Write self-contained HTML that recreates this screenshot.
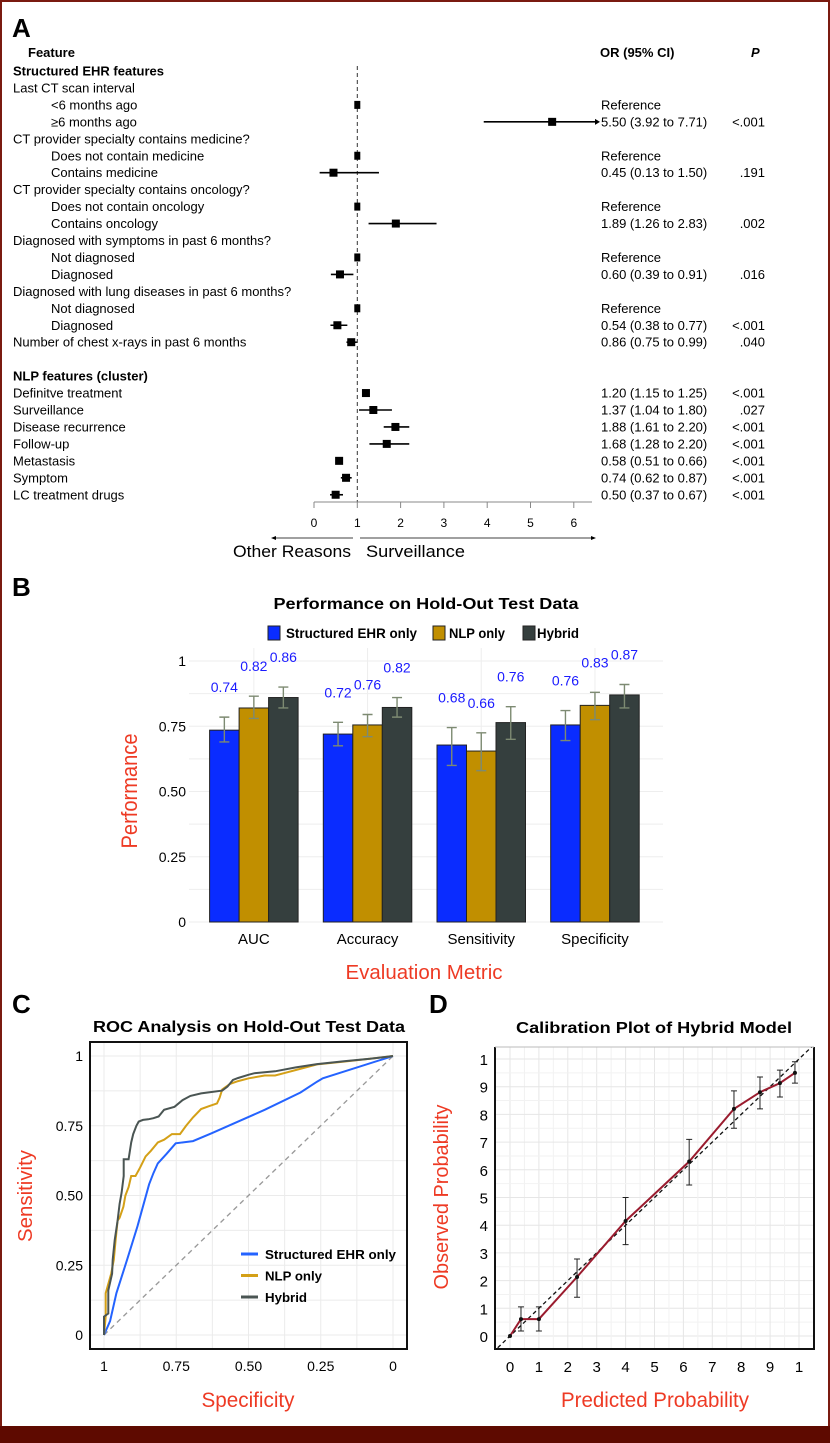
<!DOCTYPE html>
<html><head><meta charset="utf-8"><style>
html,body{margin:0;padding:0;background:#fff}
svg{display:block;font-family:"Liberation Sans",sans-serif}
</style></head><body>
<svg id="fig" width="830" height="1443" viewBox="0 0 830 1443" xmlns="http://www.w3.org/2000/svg">
<rect x="1" y="1" width="828" height="1441" fill="#fff" stroke="#7a1a10" stroke-width="2"/>
<rect x="0" y="1426" width="830" height="17" fill="#5e0a00"/>
<g id="pa"></g>
<g id="pb"></g>
<g id="pc"></g>
<g id="pd"></g>
<defs><clipPath id="clipD"><rect x="495" y="1047" width="319" height="302"/></clipPath>
<clipPath id="clipC"><rect x="90" y="1042" width="317" height="307"/></clipPath></defs>
</svg>
<script>
const NS='http://www.w3.org/2000/svg';
function mk(parent,tag,attrs,text){const e=document.createElementNS(NS,tag);for(const k in attrs)e.setAttribute(k,attrs[k]);if(text!==undefined)e.textContent=text;parent.appendChild(e);return e;}

// ---------- Panel A data ----------
const aLabels=["Structured EHR features","Last CT scan interval","<6 months ago","≥6 months ago","CT provider specialty contains medicine?","Does not contain medicine","Contains medicine","CT provider specialty contains oncology?","Does not contain oncology","Contains oncology","Diagnosed with symptoms in past 6 months?","Not diagnosed","Diagnosed","Diagnosed with lung diseases in past 6 months?","Not diagnosed","Diagnosed","Number of chest x-rays in past 6 months","","NLP features (cluster)","Definitve treatment","Surveillance","Disease recurrence","Follow-up","Metastasis","Symptom","LC treatment drugs"];
const aIndent=[0,0,1,1,0,1,1,0,1,1,0,1,1,0,1,1,0,0,0,0,0,0,0,0,0,0];
const aBold=[1,0,0,0,0,0,0,0,0,0,0,0,0,0,0,0,0,0,1,0,0,0,0,0,0,0];
const aOR=[null,null,1,5.50,null,1,0.45,null,1,1.89,null,1,0.60,null,1,0.54,0.86,null,null,1.20,1.37,1.88,1.68,0.58,0.74,0.50];
const aLo=[null,null,null,3.92,null,null,0.13,null,null,1.26,null,null,0.39,null,null,0.38,0.75,null,null,1.15,1.04,1.61,1.28,0.51,0.62,0.37];
const aHi=[null,null,null,7.71,null,null,1.50,null,null,2.83,null,null,0.91,null,null,0.77,0.99,null,null,1.25,1.80,2.20,2.20,0.66,0.87,0.67];
const aText=["","","Reference","5.50 (3.92 to 7.71)","","Reference","0.45 (0.13 to 1.50)","","Reference","1.89 (1.26 to 2.83)","","Reference","0.60 (0.39 to 0.91)","","Reference","0.54 (0.38 to 0.77)","0.86 (0.75 to 0.99)","","","1.20 (1.15 to 1.25)","1.37 (1.04 to 1.80)","1.88 (1.61 to 2.20)","1.68 (1.28 to 2.20)","0.58 (0.51 to 0.66)","0.74 (0.62 to 0.87)","0.50 (0.37 to 0.67)"];
const aP=["","","","<.001","","",".191","","",".002","","",".016","","","<.001",".040","","","<.001",".027","<.001","<.001","<.001","<.001","<.001"];
const aTicks=[0,1,2,3,4,5,6];

(function(){
const g=document.getElementById('pa');
const xA=v=>314+v*43.3, xMax=595;
const rowY=i=>71+i*16.95;
let t;
t=mk(g,'text',{x:12,y:37,'font-size':26,'font-weight':'bold'},'A');

t=mk(g,'text',{x:28,y:57,'font-size':13,'font-weight':'bold'},'Feature');

t=mk(g,'text',{x:600,y:57,'font-size':13,'font-weight':'bold'},'OR (95% CI)');

t=mk(g,'text',{x:751,y:57,'font-size':13,'font-weight':'bold','font-style':'italic'},'P');

const ref=mk(g,'line',{x1:xA(1),x2:xA(1),y1:66,y2:502,stroke:'#333','stroke-width':1,'stroke-dasharray':'4,3'});

aLabels.forEach((lab,i)=>{
  const y=rowY(i);
  if(lab){const e=mk(g,'text',{x:aIndent[i]?51:13,y:y+4.5,'font-size':13,'font-weight':aBold[i]?'bold':'normal'},lab);
  }
  if(aOR[i]!==null){
    if(aLo[i]!==null){
      const hiX=Math.min(xA(aHi[i]),xMax);
      const l=mk(g,'line',{x1:xA(aLo[i]),x2:hiX,y1:y,y2:y,stroke:'#000','stroke-width':1.6});
      
      if(xA(aHi[i])>xMax){const a=mk(g,'path',{d:`M${xMax} ${y-3}L${xMax+5} ${y}L${xMax} ${y+3}Z`,fill:'#000'});
      }
    }
    const w=aLo[i]===null?6:8;
    const s=mk(g,'rect',{x:xA(aOR[i])-w/2,y:y-4,width:w,height:8,fill:'#000'});
    
  }
  if(aText[i]){const e=mk(g,'text',{x:601,y:y+4.5,'font-size':13},aText[i]);
  }
  if(aP[i]){const e=mk(g,'text',{x:765,y:y+4.5,'font-size':13,'text-anchor':'end'},aP[i]);
  }
});
const ax=mk(g,'line',{x1:314,x2:592,y1:502,y2:502,stroke:'#888','stroke-width':1});

aTicks.forEach(v=>{
  const tk=mk(g,'line',{x1:xA(v),x2:xA(v),y1:502,y2:508,stroke:'#888'});
  
  const e=mk(g,'text',{x:xA(v),y:527,'font-size':12,'text-anchor':'middle'},String(v));
  
});
let l=mk(g,'line',{x1:274,x2:353,y1:538,y2:538,stroke:'#000','stroke-width':0.8});

l=mk(g,'path',{d:'M271 538L276 536L276 540Z',fill:'#000'});

l=mk(g,'line',{x1:360,x2:592,y1:538,y2:538,stroke:'#000','stroke-width':0.8});

l=mk(g,'path',{d:'M596 538L591 536L591 540Z',fill:'#000'});

t=mk(g,'text',{x:233,y:557,'font-size':17,textLength:118,lengthAdjust:'spacingAndGlyphs'},'Other Reasons');

t=mk(g,'text',{x:366,y:557,'font-size':17,textLength:99,lengthAdjust:'spacingAndGlyphs'},'Surveillance');

})();

// ---------- Panel B data ----------
const bCategories=["AUC","Accuracy","Sensitivity","Specificity"];
const bSeries=["Structured EHR only","NLP only","Hybrid"];
const bEHR=[0.735,0.72,0.678,0.755];
const bNLP=[0.82,0.755,0.655,0.83];
const bHyb=[0.86,0.822,0.764,0.87];
const bEHRlo=[0.69,0.675,0.60,0.695], bEHRhi=[0.785,0.765,0.745,0.81];
const bNLPlo=[0.78,0.71,0.58,0.775], bNLPhi=[0.865,0.795,0.725,0.88];
const bHyblo=[0.82,0.785,0.70,0.82], bHybhi=[0.90,0.86,0.825,0.91];
const bLabels=[["0.74","0.72","0.68","0.76"],["0.82","0.76","0.66","0.83"],["0.86","0.82","0.76","0.87"]];
const bTicks=[0,0.25,0.5,0.75,1];
const bTickLabels=["0","0.25","0.50","0.75","1"];

(function(){
const g=document.getElementById('pb');
const yB=v=>922-v*261;
const x0=197,band=113.7,bw=29.5;
const cx=i=>x0+band*(i+0.5);
const cols=['#0a2cff','#c18f00','#353f3e'];
let t;
t=mk(g,'text',{x:12,y:596,'font-size':26,'font-weight':'bold'},'B');

t=mk(g,'text',{x:426,y:609,'font-size':16,'font-weight':'bold','text-anchor':'middle',textLength:305,lengthAdjust:'spacingAndGlyphs'},'Performance on Hold-Out Test Data');

const lx=[268,433,523], ltx=[286,449,537], lw=[131,56,42];
bSeries.forEach((s,k)=>{
  const r=mk(g,'rect',{x:lx[k],y:626,width:12,height:14,fill:cols[k],stroke:'#222','stroke-width':1});
  
  const e=mk(g,'text',{x:ltx[k],y:638,'font-size':14,'font-weight':'bold',textLength:lw[k],lengthAdjust:'spacingAndGlyphs'},s);
  
});
for(let v=0;v<=1.0001;v+=0.125){const gl=mk(g,'line',{x1:189,x2:663,y1:yB(v),y2:yB(v),stroke:'#eee','stroke-width':1});
}
bCategories.forEach((c,i)=>{const gl=mk(g,'line',{x1:cx(i),x2:cx(i),y1:648,y2:922,stroke:'#eee'});
});
bTicks.forEach((v,i)=>{const e=mk(g,'text',{x:186,y:yB(v)+5,'font-size':14,'text-anchor':'end'},bTickLabels[i]);
});
const vals=[bEHR,bNLP,bHyb],los=[bEHRlo,bNLPlo,bHyblo],his=[bEHRhi,bNLPhi,bHybhi];
bCategories.forEach((c,i)=>{
  vals.forEach((arr,k)=>{
    const bx=cx(i)+(k-1)*bw;
    const r=mk(g,'rect',{x:bx-bw/2,y:yB(arr[i]),width:bw,height:yB(0)-yB(arr[i]),fill:cols[k],stroke:'#222','stroke-width':1});
    
    const e1=mk(g,'path',{d:`M${bx} ${yB(los[k][i])}V${yB(his[k][i])}M${bx-5} ${yB(los[k][i])}H${bx+5}M${bx-5} ${yB(his[k][i])}H${bx+5}`,stroke:'#7d8a72','stroke-width':1.4,fill:'none'});
    
    const lb=mk(g,'text',{x:bx,y:yB(his[k][i])-25,'font-size':14,fill:'#1a1aff','text-anchor':'middle'},bLabels[k][i]);
    
  });
  const e=mk(g,'text',{x:cx(i),y:944,'font-size':15,'text-anchor':'middle'},c);
  
});
t=mk(g,'text',{x:0,y:0,'font-size':22,fill:'#ee3a24','text-anchor':'middle',transform:'translate(137,791) rotate(-90)',textLength:115,lengthAdjust:'spacingAndGlyphs'},'Performance');

t=mk(g,'text',{x:424,y:979,'font-size':20,fill:'#ee3a24','text-anchor':'middle',textLength:157,lengthAdjust:'spacingAndGlyphs'},'Evaluation Metric');

})();

// ---------- Panel C data ----------
const rocEHRspec=[1,0.979,0.957,0.92,0.884,0.844,0.829,0.814,0.783,0.752,0.692,0.628,0.536,0.444,0.32,0.263,0.243,0];
const rocEHRsens=[0,0.05,0.15,0.27,0.39,0.54,0.58,0.615,0.65,0.687,0.695,0.723,0.765,0.807,0.869,0.908,0.92,1];
const rocNLPspec=[1,0.994,0.994,0.975,0.966,0.96,0.953,0.946,0.933,0.926,0.915,0.906,0.891,0.875,0.856,0.838,0.814,0.792,0.765,0.737,0.716,0.692,0.664,0.637,0.609,0.6,0.591,0.564,0.536,0.499,0.444,0.408,0.371,0.336,0.263,0.17,0.08,0];
const rocNLPsens=[0,0.066,0.15,0.22,0.27,0.34,0.41,0.42,0.46,0.5,0.53,0.57,0.57,0.6,0.64,0.66,0.69,0.70,0.72,0.72,0.75,0.78,0.81,0.82,0.83,0.85,0.88,0.90,0.91,0.92,0.93,0.93,0.94,0.95,0.97,0.98,0.99,1];
const rocHybspec=[1,1,0.985,0.985,0.972,0.97,0.963,0.953,0.946,0.939,0.932,0.932,0.915,0.906,0.899,0.888,0.88,0.865,0.847,0.829,0.811,0.792,0.756,0.728,0.701,0.664,0.628,0.591,0.573,0.554,0.536,0.499,0.481,0.408,0.336,0.263,0.17,0.08,0];
const rocHybsens=[0,0.066,0.077,0.16,0.22,0.27,0.34,0.41,0.47,0.51,0.57,0.63,0.63,0.69,0.72,0.75,0.765,0.771,0.773,0.777,0.783,0.807,0.818,0.842,0.857,0.866,0.871,0.876,0.89,0.914,0.921,0.933,0.938,0.945,0.959,0.971,0.981,0.99,1];
const cTicks=[1,0.75,0.5,0.25,0];
const cTickLabels=["1","0.75","0.50","0.25","0"];
const cSeriesNames=["Structured EHR only","NLP only","Hybrid"];

(function(){
const g=document.getElementById('pc');
const xC=s=>104+(1-s)*289, yC=v=>1335-v*279;
let t;
t=mk(g,'text',{x:12,y:1013,'font-size':26,'font-weight':'bold'},'C');

t=mk(g,'text',{x:249,y:1032,'font-size':16,'font-weight':'bold','text-anchor':'middle',textLength:312,lengthAdjust:'spacingAndGlyphs'},'ROC Analysis on Hold-Out Test Data');

for(let v=-0.05;v<=1.06;v+=0.125){}
for(let k=0;k<=8;k++){const v=k*0.125;
  let gl=mk(g,'line',{x1:90,x2:407,y1:yC(v),y2:yC(v),stroke:'#ebebeb'});
  gl=mk(g,'line',{x1:xC(v),x2:xC(v),y1:1042,y2:1349,stroke:'#ebebeb'});}
const box=mk(g,'rect',{x:90,y:1042,width:317,height:307,fill:'none',stroke:'#111','stroke-width':2});

cTicks.forEach((v,i)=>{
  let e=mk(g,'text',{x:83,y:yC(v)+5,'font-size':14,'text-anchor':'end'},cTickLabels[i]);
  
  e=mk(g,'text',{x:xC(v),y:1371,'font-size':14,'text-anchor':'middle'},cTickLabels[i]);
  
});
const d=mk(g,'line',{x1:xC(1),y1:yC(0),x2:xC(0),y2:yC(1),stroke:'#999','stroke-width':1.3,'stroke-dasharray':'5,4'});

const series=[[rocEHRspec,rocEHRsens,'#2463ff'],[rocNLPspec,rocNLPsens,'#d4a017'],[rocHybspec,rocHybsens,'#4a5553']];
series.forEach((s,k)=>{
  const pts=s[0].map((sp,i)=>xC(sp).toFixed(1)+','+yC(s[1][i]).toFixed(1)).join(' ');
  const p=mk(g,'polyline',{points:pts,fill:'none',stroke:s[2],'stroke-width':2,'clip-path':'url(#clipC)'});
  
  const ly=1254+k*21.5;
  const ll=mk(g,'line',{x1:241,x2:258,y1:ly,y2:ly,stroke:s[2],'stroke-width':3});
  
  const e=mk(g,'text',{x:265,y:ly+5,'font-size':13,'font-weight':'bold',textLength:[131,57,42][k],lengthAdjust:'spacingAndGlyphs'},cSeriesNames[k]);
  
});
t=mk(g,'text',{x:0,y:0,'font-size':20,fill:'#ee3a24','text-anchor':'middle',transform:'translate(32,1196) rotate(-90)',textLength:92,lengthAdjust:'spacingAndGlyphs'},'Sensitivity');

t=mk(g,'text',{x:248,y:1407,'font-size':21,fill:'#ee3a24','text-anchor':'middle',textLength:93,lengthAdjust:'spacingAndGlyphs'},'Specificity');

})();

// ---------- Panel D data ----------
const calPred=[0,0.038,0.1,0.232,0.40,0.62,0.775,0.865,0.934,0.986];
const calObs=[0,0.061,0.061,0.213,0.415,0.63,0.82,0.88,0.913,0.95];
const calLo=[null,0.018,0.018,0.14,0.33,0.545,0.75,0.82,0.863,0.913];
const calHi=[null,0.105,0.105,0.278,0.50,0.71,0.885,0.935,0.96,0.99];
const dTicks=[0,0.1,0.2,0.3,0.4,0.5,0.6,0.7,0.8,0.9,1];
const dTickLabels=["0","1","2","3","4","5","6","7","8","9","1"];

(function(){
const g=document.getElementById('pd');
const xD=p=>510+p*289, yD=o=>1336-o*277;
let t;
t=mk(g,'text',{x:429,y:1013,'font-size':26,'font-weight':'bold'},'D');

t=mk(g,'text',{x:654,y:1033,'font-size':16,'font-weight':'bold','text-anchor':'middle',textLength:276,lengthAdjust:'spacingAndGlyphs'},'Calibration Plot of Hybrid Model');

for(let k=-1;k<=21;k++){const v=k*0.05;
  const c=k%2===0?'#e6e6e6':'#f2f2f2';
  let gl=mk(g,'line',{x1:495,x2:814,y1:yD(v),y2:yD(v),stroke:c,'clip-path':'url(#clipD)'});
  gl=mk(g,'line',{x1:xD(v),x2:xD(v),y1:1047,y2:1349,stroke:c,'clip-path':'url(#clipD)'});}
const box=mk(g,'path',{d:'M495 1047V1349H814V1047',fill:'none',stroke:'#111','stroke-width':2});

const box2=mk(g,'path',{d:'M495 1047H814',fill:'none',stroke:'#bbb','stroke-width':1});

dTicks.forEach((v,i)=>{
  let e=mk(g,'text',{x:488,y:yD(v)+6,'font-size':15,'text-anchor':'end'},dTickLabels[i]);
  
  e=mk(g,'text',{x:xD(v),y:1372,'font-size':15,'text-anchor':'middle'},dTickLabels[i]);
  
});
const dl=mk(g,'line',{x1:xD(-0.06),y1:yD(-0.06),x2:xD(1.1),y2:yD(1.1),stroke:'#111','stroke-width':1.3,'stroke-dasharray':'4,3','clip-path':'url(#clipD)'});

const pts=calPred.map((p,i)=>xD(p).toFixed(1)+','+yD(calObs[i]).toFixed(1)).join(' ');
const pl=mk(g,'polyline',{points:pts,fill:'none',stroke:'#9a1b2e','stroke-width':2});

calPred.forEach((p,i)=>{
  if(calLo[i]!==null){const x=xD(p);
    const e=mk(g,'path',{d:`M${x} ${yD(calLo[i])}V${yD(calHi[i])}M${x-3} ${yD(calLo[i])}H${x+3}M${x-3} ${yD(calHi[i])}H${x+3}`,stroke:'#222','stroke-width':1,fill:'none'});
    }
  const c=mk(g,'circle',{cx:xD(p),cy:yD(calObs[i]),r:2,fill:'#111'});
  
});
t=mk(g,'text',{x:0,y:0,'font-size':20,fill:'#ee3a24','text-anchor':'middle',transform:'translate(448,1197) rotate(-90)',textLength:185,lengthAdjust:'spacingAndGlyphs'},'Observed Probability');

t=mk(g,'text',{x:655,y:1407,'font-size':21,fill:'#ee3a24','text-anchor':'middle',textLength:188,lengthAdjust:'spacingAndGlyphs'},'Predicted Probability');

})();
</script>
</body></html>
